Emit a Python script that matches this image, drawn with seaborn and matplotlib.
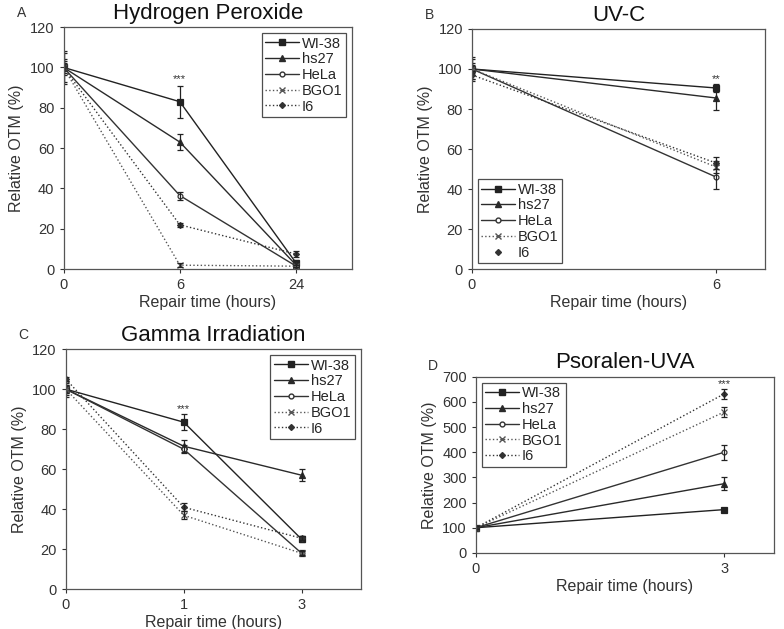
import numpy as np
import pandas as pd
import matplotlib
matplotlib.use("Agg")
import matplotlib.pyplot as plt
from matplotlib.lines import Line2D
import seaborn as sns

sns.set_style("white")
plt.rcParams['font.family'] = ['Liberation Sans', 'DejaVu Sans']

cells = ['WI-38', 'hs27', 'HeLa', 'BGO1', 'I6']

# Panel A - Hydrogen Peroxide
times_a = ['0', '6', '24']
mean_a = {
    'WI-38': [100, 83, 3],
    'hs27': [100, 63, 2],
    'HeLa': [100, 36.5, 1.5],
    'BGO1': [100, 2, 1.5],
    'I6': [100, 22, 7.5],
}
err_a = {
    'WI-38': [8, 8, 1.5],
    'hs27': [4, 4, 1],
    'HeLa': [3, 2, 1],
    'BGO1': [2, 1, 0.5],
    'I6': [7, 1, 1.5],
}

# Panel B - UV-C
times_b = ['0', '6']
mean_b = {
    'WI-38': [100, 90.5],
    'hs27': [100, 85.5],
    'HeLa': [100, 46],
    'BGO1': [100, 51],
    'I6': [97, 53],
}
err_b = {
    'WI-38': [6, 2],
    'hs27': [5, 6],
    'HeLa': [3, 6],
    'BGO1': [2, 3],
    'I6': [2, 3],
}

# Panel C - Gamma Irradiation
times_c = ['0', '1', '3']
mean_c = {
    'WI-38': [100, 83.5, 25],
    'hs27': [100, 71.5, 57],
    'HeLa': [100, 70, 18],
    'BGO1': [100, 37, 18],
    'I6': [105, 41, 25.5],
}
err_c = {
    'WI-38': [4, 4, 1.5],
    'hs27': [3, 3, 3],
    'HeLa': [2, 2, 1.5],
    'BGO1': [2, 2, 1],
    'I6': [1, 2, 1],
}

# Panel D - Psoralen-UVA
times_d = ['0', '3']
mean_d = {
    'WI-38': [100, 172],
    'hs27': [100, 275],
    'HeLa': [100, 400],
    'BGO1': [100, 560],
    'I6': [100, 632],
}
err_d = {
    'WI-38': [5, 5],
    'hs27': [5, 25],
    'HeLa': [5, 30],
    'BGO1': [5, 20],
    'I6': [5, 20],
}

markers = {'WI-38': 's', 'hs27': '^', 'HeLa': 'o', 'BGO1': 'x', 'I6': 'D'}
msizes = {'WI-38': 4, 'hs27': 4, 'HeLa': 3.5, 'BGO1': 4, 'I6': 3}
styles = {'WI-38': '-', 'hs27': '-', 'HeLa': '-', 'BGO1': ':', 'I6': ':'}
colors = {'WI-38': '#222222', 'hs27': '#2a2a2a', 'HeLa': '#333333', 'BGO1': '#555555', 'I6': '#333333'}

fig = plt.figure(figsize=(7.84, 6.29), dpi=100)


def panel(rect, letter, title, times, means, errs, ylim, yticks, xright,
          stars, star_y, legend_loc, i6_line=True):
    ax = fig.add_axes(rect)
    rows = []
    for c in cells:
        for i, t in enumerate(times):
            rows.append({'cell': c, 'pos': i, 'val': means[c][i], 'err': errs[c][i]})
    df = pd.DataFrame(rows)
    for c in cells:
        d = df[df['cell'] == c]
        sns.lineplot(data=d, x='pos', y='val', ax=ax, color=colors[c],
                     linestyle=styles[c], linewidth=1.0, marker=markers[c],
                     markersize=msizes[c], markeredgewidth=0.9,
                     markerfacecolor='white' if c == 'HeLa' else colors[c],
                     markeredgecolor=colors[c], legend=False)
        ax.errorbar(d['pos'], d['val'], yerr=d['err'], fmt='none',
                    ecolor='#222222', elinewidth=0.9, capsize=2.5, capthick=0.9)
    ax.text(stars[0], star_y, stars[1], ha='center', va='center', fontsize=8, color='#333333')
    ax.set_xlim(0, xright)
    ax.set_ylim(*ylim)
    ax.set_yticks(yticks)
    ax.set_xticks(range(len(times)))
    ax.set_xticklabels(times)
    ax.tick_params(axis='both', labelsize=10.5, colors='#333333', length=3,
                   direction='out', left=True, bottom=True)
    for s in ax.spines.values():
        s.set_color('#555555')
        s.set_linewidth(0.9)
    ax.set_xlabel('Repair time (hours)', fontsize=11.5, color='#333333', labelpad=2)
    ax.set_ylabel('Relative OTM (%)', fontsize=11.5, color='#333333')
    ax.set_title(title, fontsize=16, color='#111111', pad=6)
    ax.text(-0.16, 1.04, letter, transform=ax.transAxes, fontsize=10, color='#333333')
    handles = []
    for c in cells:
        ls = styles[c] if (c != 'I6' or i6_line) else 'none'
        handles.append(Line2D([], [], color=colors[c], linestyle=ls, linewidth=1.0,
                              marker=markers[c], markersize=msizes[c],
                              markerfacecolor='white' if c == 'HeLa' else colors[c],
                              markeredgecolor=colors[c], label=c))
    leg = ax.legend(handles=handles, loc=legend_loc, fontsize=10.5, frameon=True,
                    fancybox=False, edgecolor='#222222', handlelength=2.3,
                    borderpad=0.25, labelspacing=0.12, handletextpad=0.2,
                    borderaxespad=0.4)
    leg.get_frame().set_linewidth(0.9)
    return ax


panel([0.081, 0.572, 0.368, 0.385], 'A', 'Hydrogen Peroxide', times_a, mean_a, err_a,
      (0, 120), range(0, 121, 20), 2.48, (1, '***'), 94, 'upper right')
panel([0.602, 0.572, 0.374, 0.382], 'B', 'UV-C', times_b, mean_b, err_b,
      (0, 120), range(0, 121, 20), 1.2, (1, '**'), 95, 'lower left', i6_line=False)
panel([0.084, 0.063, 0.376, 0.382], 'C', 'Gamma Irradiation', times_c, mean_c, err_c,
      (0, 120), range(0, 121, 20), 2.5, (1, '***'), 90, 'upper right')
panel([0.607, 0.121, 0.380, 0.280], 'D', 'Psoralen-UVA', times_d, mean_d, err_d,
      (0, 700), range(0, 701, 100), 1.2, (1, '***'), 672, 'upper left')

fig.savefig('out.png', dpi=100)
